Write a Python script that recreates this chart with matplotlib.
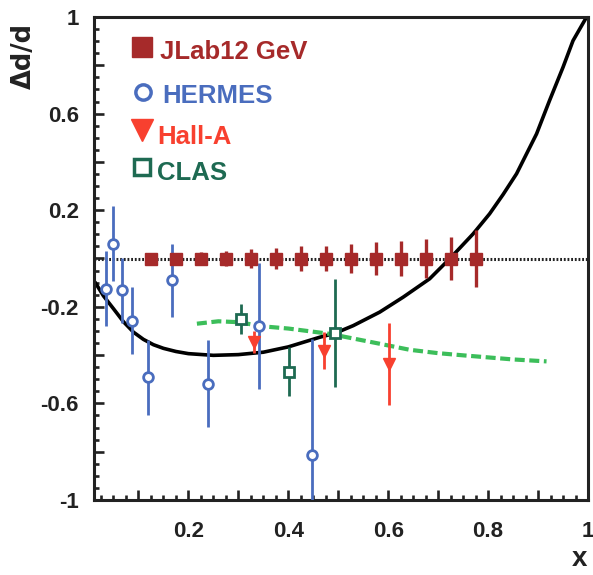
import matplotlib
matplotlib.use("Agg")
import matplotlib.pyplot as plt
import numpy as np
from matplotlib.ticker import MultipleLocator, FuncFormatter

# ---------------- data ----------------
jlab_x = [0.125, 0.175, 0.225, 0.275, 0.325, 0.375, 0.425, 0.475, 0.525, 0.575, 0.625, 0.675, 0.725, 0.775]
jlab_y = [0.0] * 14
jlab_err = [0.02, 0.02, 0.025, 0.03, 0.039, 0.043, 0.05, 0.053, 0.06, 0.067, 0.074, 0.079, 0.088, 0.117]

hermes_x = [0.035, 0.050, 0.067, 0.088, 0.120, 0.168, 0.240, 0.341, 0.447]
hermes_y = [-0.125, 0.061, -0.132, -0.257, -0.491, -0.091, -0.519, -0.280, -0.812]
hermes_err = [0.155, 0.155, 0.135, 0.138, 0.155, 0.153, 0.18, 0.26, 0.48]

halla_x = [0.331, 0.472, 0.601]
halla_y = [-0.346, -0.381, -0.436]
halla_err = [0.045, 0.076, 0.169]

clas_x = [0.305, 0.402, 0.493]
clas_y = [-0.250, -0.468, -0.308]
clas_err = [0.062, 0.103, 0.224]

curve_x = [0.013, 0.03, 0.05, 0.07, 0.09, 0.11, 0.13, 0.15, 0.175, 0.20, 0.25, 0.30, 0.35, 0.40,
           0.463, 0.493, 0.53, 0.583, 0.63, 0.683, 0.725, 0.77, 0.803, 0.83, 0.857, 0.897,
           0.923, 0.95, 0.97, 0.995]
curve_y = [-0.098, -0.155, -0.208, -0.262, -0.305, -0.335, -0.357, -0.372, -0.385, -0.394,
           -0.401, -0.398, -0.388, -0.366, -0.326, -0.310, -0.278, -0.222, -0.160, -0.084,
           0.003, 0.102, 0.185, 0.265, 0.351, 0.516, 0.654, 0.792, 0.902, 0.992]

green_x = [0.217, 0.26, 0.303, 0.344, 0.40, 0.483, 0.583, 0.643, 0.70, 0.75, 0.85, 0.917]
green_y = [-0.27, -0.26, -0.264, -0.28, -0.29, -0.312, -0.353, -0.378, -0.392, -0.401, -0.418, -0.426]

x_ticklabels = ["0.2", "0.4", "0.6", "0.8", "1"]
y_ticklabels = ["-1", "-0.6", "-0.2", "0.2", "0.6", "1"]
legend_labels = ["JLab12 GeV", "HERMES", "Hall-A", "CLAS"]

# ---------------- style ----------------
C_JLAB = "#A62A2A"
C_HERMES = "#4A6DBE"
C_HALLA = "#F8402F"
C_CLAS = "#1E6A52"
C_GREEN = "#3CBE5A"
FONT = ["Liberation Sans", "DejaVu Sans"]

fig = plt.figure(figsize=(5.93, 5.75), dpi=100)
ax = fig.add_axes([94 / 593, 1 - 500 / 575, 494 / 593, 483 / 575])
ax.set_xlim(0.011, 1.0)
ax.set_ylim(-1, 1)

# reference line at zero
ax.axhline(0, color="#222222", lw=2.2, ls=(0, (0.6, 0.6)), zorder=1)

# theory curves
ax.plot(curve_x, curve_y, color="black", lw=2.6, zorder=2, solid_capstyle="round",
        solid_joinstyle="round")
ax.plot(green_x, green_y, color=C_GREEN, lw=3.0, ls=(0, (2.4, 1.1)), zorder=2)

# data
ax.errorbar(jlab_x, jlab_y, yerr=jlab_err, fmt="s", color=C_JLAB, ms=8.5, elinewidth=2.4,
            capsize=0, zorder=4)
ax.errorbar(hermes_x, hermes_y, yerr=hermes_err, fmt="o", color=C_HERMES, mfc="white",
            mec=C_HERMES, ms=7, mew=2.0, elinewidth=2.0, capsize=0, zorder=3)
ax.errorbar(halla_x, halla_y, yerr=halla_err, fmt="v", color=C_HALLA, ms=9, elinewidth=2.0,
            capsize=0, zorder=3)
ax.errorbar(clas_x, clas_y, yerr=clas_err, fmt="s", color=C_CLAS, mfc="white", mec=C_CLAS,
            ms=6.5, mew=2.0, elinewidth=2.0, capsize=0, zorder=3)

# legend (manual)
leg_colors = [C_JLAB, C_HERMES, C_HALLA, C_CLAS]
leg_y_marker = [47, 92, 130, 167]
leg_y_text = [52, 96, 137, 173]
leg_tx = [160, 162, 157, 157]
def fx(px):
    return (px - 94) / 494
def fy(py):
    return (500 - py) / 483
ax.plot([fx(142)], [fy(leg_y_marker[0])], "s", color=C_JLAB, ms=14, transform=ax.transAxes, clip_on=False)
ax.plot([fx(143)], [fy(leg_y_marker[1])], "o", mfc="white", mec=C_HERMES, mew=2.5, ms=11, transform=ax.transAxes, clip_on=False)
ax.plot([fx(142)], [fy(leg_y_marker[2])], "v", color=C_HALLA, ms=16, transform=ax.transAxes, clip_on=False)
ax.plot([fx(142)], [fy(leg_y_marker[3])], "s", mfc="white", mec=C_CLAS, mew=2.5, ms=12, transform=ax.transAxes, clip_on=False)
for lab, col, ty, tx in zip(legend_labels, leg_colors, leg_y_text, leg_tx):
    ax.text(fx(tx), fy(ty), lab, color=col, fontsize=18.5, fontweight="bold", family=FONT,
            transform=ax.transAxes, ha="left", va="center")

# ticks
ax.xaxis.set_major_locator(MultipleLocator(0.1))
ax.xaxis.set_minor_locator(MultipleLocator(0.025))
ax.yaxis.set_major_locator(MultipleLocator(0.2))
ax.yaxis.set_minor_locator(MultipleLocator(0.05))

xl_vals = [0.2, 0.4, 0.6, 0.8, 1.0]
yl_vals = [-1.0, -0.6, -0.2, 0.2, 0.6, 1.0]
def xfmt(v, pos):
    for val, s in zip(xl_vals, x_ticklabels):
        if abs(v - val) < 1e-6:
            return s
    return ""
def yfmt(v, pos):
    for val, s in zip(yl_vals, y_ticklabels):
        if abs(v - val) < 1e-6:
            return s
    return ""
ax.xaxis.set_major_formatter(FuncFormatter(xfmt))
ax.yaxis.set_major_formatter(FuncFormatter(yfmt))

ax.tick_params(which="both", direction="in", top=False, right=False, color="#222222")
ax.tick_params(which="major", length=7, width=1.9)
ax.tick_params(which="minor", length=3.5, width=1.9)
ax.tick_params(axis="x", which="major", pad=15)
ax.tick_params(axis="y", which="major", pad=11)
for lab in ax.get_xticklabels() + ax.get_yticklabels():
    lab.set_fontfamily(FONT)
    lab.set_fontweight("bold")
    lab.set_fontsize(16)
    lab.set_color("#222222")

for sp in ax.spines.values():
    sp.set_linewidth(2.2)
    sp.set_color("#222222")

fig.text(24 / 593, 1 - 56 / 575, "\u0394d/d", rotation=90, ha="center", va="center",
         fontsize=18.5, fontweight="bold", family=["DejaVu Sans"], color="#222222")
fig.text(579 / 593, 1 - 566 / 575, "x", ha="center", va="baseline", fontsize=20,
         fontweight="bold", family=FONT, color="#222222")

fig.savefig("out.png", dpi=100)
